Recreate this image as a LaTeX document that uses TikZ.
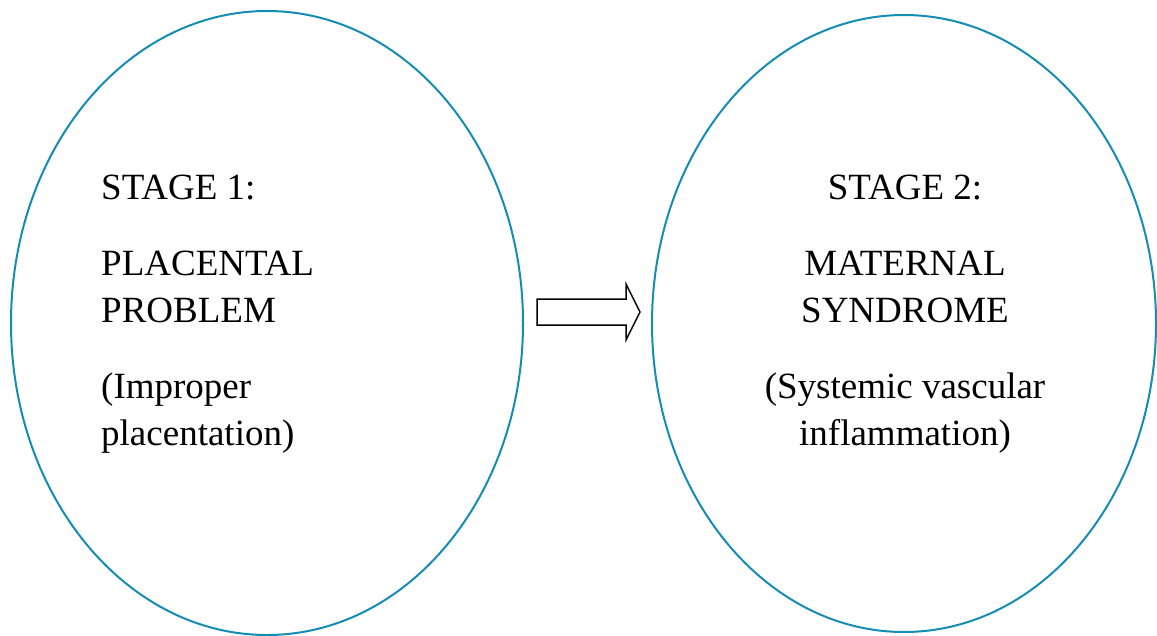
\documentclass[tikz,border=0pt]{standalone}
\usepackage{fontspec}
\setmainfont{Liberation Serif}
\usetikzlibrary{shapes.geometric}
\definecolor{ringblue}{RGB}{20,140,180}
\tikzset{
  stagering/.style={ellipse,draw=ringblue,line width=2pt,inner sep=0pt},
  stagetext/.style={font=\fontsize{37}{47}\selectfont,inner sep=0pt}
}
\begin{document}
\begin{tikzpicture}[x=1pt,y=-1pt]
  \useasboundingbox (0,0) rectangle (1157,635);
  %%% stage 1
  \node[stagering,minimum width=512pt,minimum height=624pt] (stageone) at (267,323) {};
  \node[stagetext,anchor=base west] (titleone) at (101,199) {STAGE 1:};
  \node[stagetext,anchor=base west,align=left] (mainone) at (101,322) {PLACENTAL\\PROBLEM};
  \node[stagetext,anchor=base west,align=left] (noteone) at (101,445) {(Improper\\placentation)};
  %%% stage 2
  \node[stagering,minimum width=504pt,minimum height=617pt] (stagetwo) at (904,323.5) {};
  \node[stagetext,anchor=base] (titletwo) at (905,199) {STAGE 2:};
  \node[stagetext,anchor=base,align=center] (maintwo) at (905,322) {MATERNAL\\SYNDROME};
  \node[stagetext,anchor=base,align=center] (notetwo) at (905,445) {(Systemic vascular\\inflammation)};
  %%% arrow
  \coordinate (arrowtail) at (537,312);
  \draw[line width=1.5pt,line join=miter] (arrowtail) ++(0,-13) -- ++(89,0) -- ++(0,-15)
    -- ++(14,28) -- ++(-14,28) -- ++(0,-15) -- ++(-89,0) -- cycle;
\end{tikzpicture}
\end{document}
